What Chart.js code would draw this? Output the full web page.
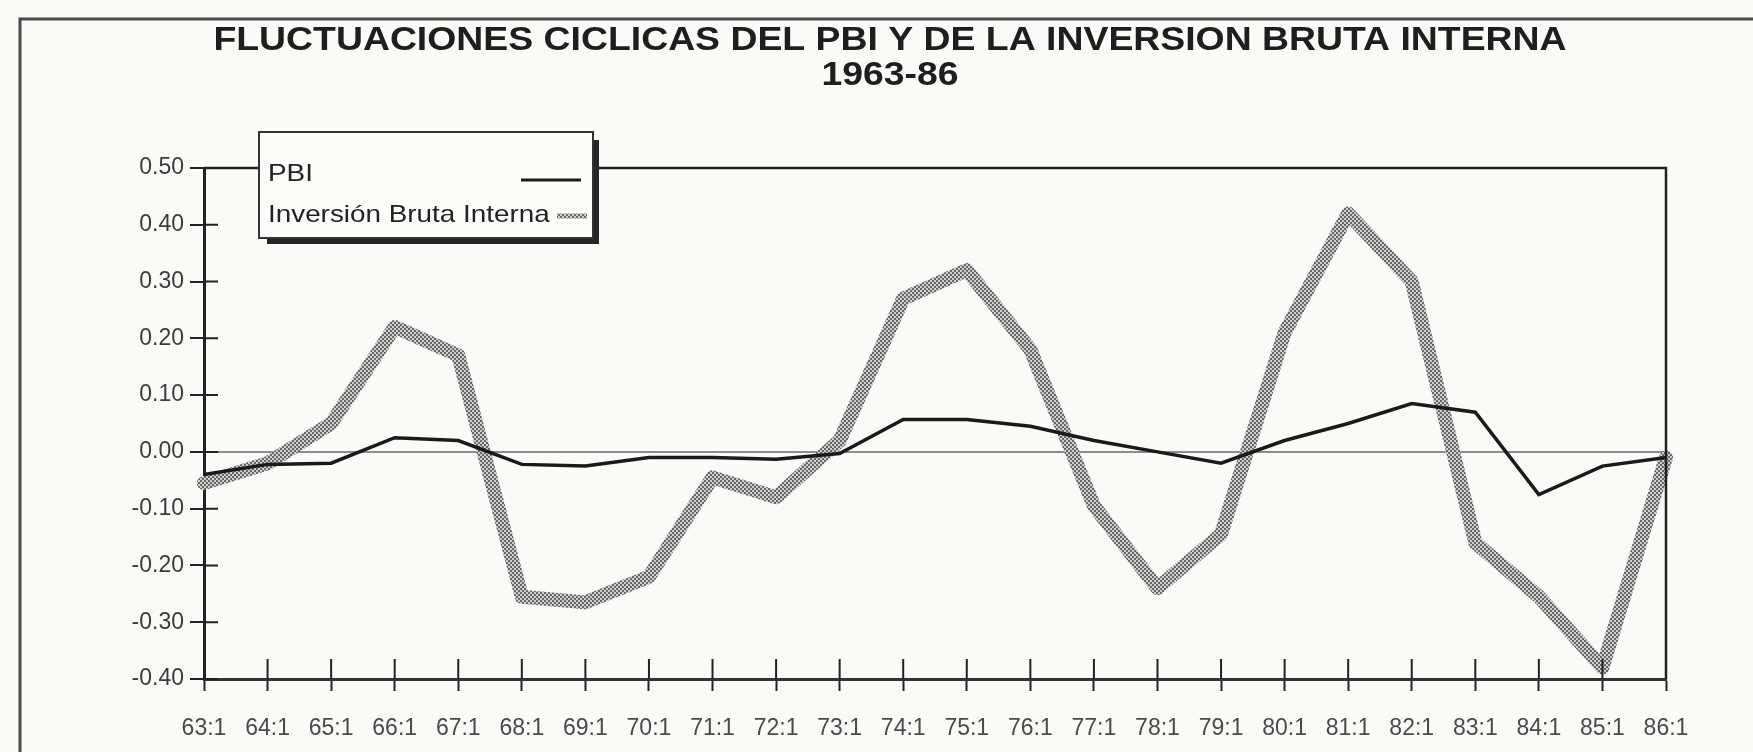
<!DOCTYPE html>
<html>
<head>
<meta charset="utf-8">
<script src="https://cdn.jsdelivr.net/npm/chart.js@4.4.1/dist/chart.umd.min.js"></script>
<style>
  html, body { margin: 0; padding: 0; background: #fbfaf6; }
  canvas { display: block; }
</style>
</head>
<body>
<canvas id="canvas" width="1753" height="752"></canvas>
<script>
// trimestres del eje X
var labels = ['63:1', '64:1', '65:1', '66:1', '67:1', '68:1', '69:1', '70:1', '71:1', '72:1', '73:1', '74:1',
              '75:1', '76:1', '77:1', '78:1', '79:1', '80:1', '81:1', '82:1', '83:1', '84:1', '85:1', '86:1'];

// PBI (linea negra)
var pbi = [-0.04, -0.022, -0.02, 0.025, 0.02, -0.022, -0.025, -0.01, -0.01, -0.013, -0.003, 0.057,
           0.057, 0.045, 0.02, 0.0, -0.02, 0.02, 0.05, 0.085, 0.07, -0.075, -0.025, -0.01];

// Inversion Bruta Interna (linea gris trama)
var inversion = [-0.055, -0.02, 0.05, 0.22, 0.17, -0.255, -0.265, -0.22, -0.045, -0.08, 0.02, 0.27,
                 0.32, 0.18, -0.095, -0.24, -0.145, 0.21, 0.42, 0.30, -0.16, -0.255, -0.38, -0.01];

// eje Y
var yMin = -0.4, yMax = 0.5, yStep = 0.1;

var titulo = ['FLUCTUACIONES CICLICAS DEL PBI Y DE LA INVERSION BRUTA INTERNA', '1963-86'];

var canvas = document.getElementById('canvas');
var ctx = canvas.getContext('2d');

// trama gris para la inversion
function trama() {
    var c = document.createElement('canvas');
    c.width = 4; c.height = 4;
    var g = c.getContext('2d');
    g.fillStyle = '#cecece';
    g.fillRect(0, 0, 4, 4);
    g.fillStyle = '#686868';
    g.fillRect(0, 0, 2, 2);
    g.fillRect(2, 2, 2, 2);
    return ctx.createPattern(c, 'repeat');
}
var patron = trama();

var fuente = 'Liberation Sans, Arial, Helvetica, sans-serif';
var estiramiento = 1.15; // el escaneo esta un poco ensanchado

// marco, ticks cruzados, borde del grafico y leyenda
var decorado = {
    id: 'decorado',
    beforeDraw: function (chart) {
        var c = chart.ctx;
        // titulo algo mas ancho, como en el original
        var tb = chart.titleBlock;
        if (tb && !tb._estirado) {
            var dibujar = tb.draw;
            tb.draw = function (area) {
                var cx = (this.left + this.right) / 2;
                this.ctx.save();
                this.ctx.translate(cx, 0);
                this.ctx.scale(estiramiento, 1);
                this.ctx.translate(-cx, 0);
                dibujar.call(this, area);
                this.ctx.restore();
            };
            tb._estirado = true;
        }
        c.save();
        c.fillStyle = '#fbfaf6';
        c.fillRect(0, 0, chart.width, chart.height);
        c.strokeStyle = '#4a4a4a';
        c.lineWidth = 3;
        c.beginPath();
        c.moveTo(20, chart.height);
        c.lineTo(20, 19);
        c.lineTo(chart.width, 19);
        c.stroke();
        c.restore();
    },
    afterDraw: function (chart) {
        var c = chart.ctx, a = chart.chartArea;
        var sx = chart.scales.x, sy = chart.scales.y;
        c.save();
        c.strokeStyle = '#222';
        c.lineWidth = 2;
        c.beginPath();
        sy.ticks.forEach(function (t, i) {
            var py = sy.getPixelForTick(i);
            c.moveTo(a.left, py);
            c.lineTo(a.left + 14, py);
        });
        sx.ticks.forEach(function (t, i) {
            var px = sx.getPixelForTick(i);
            c.moveTo(px, a.bottom);
            c.lineTo(px, a.bottom - 20);
        });
        c.stroke();

        // borde superior y derecho
        c.lineWidth = 2.5;
        c.beginPath();
        c.moveTo(a.left, a.top);
        c.lineTo(a.right, a.top);
        c.lineTo(a.right, a.bottom);
        c.stroke();

        // leyenda
        var lx = a.left + 55, ly = a.top - 36, lw = 334, lh = 106;
        c.fillStyle = '#262626';
        c.fillRect(lx + lw, ly + 8, 6, lh - 2);
        c.fillRect(lx + 8, ly + lh, lw - 2, 6);
        c.fillStyle = '#fdfcf9';
        c.fillRect(lx, ly, lw, lh);
        c.strokeStyle = '#333';
        c.lineWidth = 2;
        c.strokeRect(lx, ly, lw, lh);

        var ds = chart.data.datasets;
        c.save();
        c.translate(lx + 9, 0);
        c.scale(1.16, 1);
        c.font = '24px ' + fuente;
        c.fillStyle = '#222';
        c.textBaseline = 'middle';
        c.textAlign = 'left';
        c.fillText(ds[0].label, 0, ly + 42);
        c.fillText(ds[1].label, 0, ly + 83);
        c.restore();

        c.strokeStyle = ds[0].borderColor;
        c.lineWidth = 3;
        c.beginPath();
        c.moveTo(lx + 262, ly + 48);
        c.lineTo(lx + 322, ly + 48);
        c.stroke();

        c.strokeStyle = patron;
        c.lineWidth = 5;
        c.beginPath();
        c.moveTo(lx + 298, ly + 84);
        c.lineTo(lx + 328, ly + 84);
        c.stroke();
        c.restore();
    }
};

var grafico = new Chart(ctx, {
    type: 'line',
    data: {
        labels: labels,
        datasets: [
            {
                label: 'PBI',
                data: pbi,
                borderColor: '#1a1a1a',
                borderWidth: 3.5,
                pointRadius: 0,
                tension: 0,
                order: 0
            },
            {
                label: 'Inversión Bruta Interna',
                data: inversion,
                borderColor: patron,
                borderWidth: 14,
                borderJoinStyle: 'round',
                borderCapStyle: 'round',
                pointRadius: 0,
                tension: 0,
                order: 1
            }
        ]
    },
    options: {
        responsive: false,
        animation: false,
        layout: { padding: { left: 27, right: 0, top: 0, bottom: 0 } },
        plugins: {
            legend: { display: false },
            tooltip: { enabled: false },
            title: {
                display: true,
                text: titulo,
                color: '#1e1e1e',
                font: { family: fuente, size: 32.5, weight: 'bold', lineHeight: 1.077 },
                padding: { top: 24, bottom: 74 }
            }
        },
        scales: {
            x: {
                type: 'category',
                offset: false,
                grid: { drawOnChartArea: false, tickLength: 12, tickColor: '#222', tickWidth: 2 },
                border: { color: '#333', width: 3 },
                ticks: {
                    color: '#4a4a4a',
                    font: { family: fuente, size: 23 },
                    padding: 24,
                    maxRotation: 0,
                    autoSkip: false
                },
                afterFit: function (s) { s.height = 73; }
            },
            y: {
                min: yMin,
                max: yMax,
                grid: {
                    tickLength: 14,
                    tickColor: '#222',
                    tickWidth: 2,
                    lineWidth: 2,
                    color: function (c) {
                        return (c.tick && Math.abs(c.tick.value) < 1e-9) ? '#8c8c8c' : 'rgba(0,0,0,0)';
                    }
                },
                border: { color: '#222', width: 3 },
                ticks: {
                    stepSize: yStep,
                    color: '#3c3c3c',
                    font: { family: fuente, size: 23 },
                    padding: 6,
                    callback: function (v) { return Number(v).toFixed(2); }
                },
                afterFit: function (s) { s.width = 177; }
            },
            // eje vacio a la derecha: solo reserva el margen
            margen: {
                type: 'linear',
                position: 'right',
                display: true,
                grid: { display: false },
                border: { display: false },
                ticks: { display: false },
                afterFit: function (s) { s.width = 87; }
            }
        }
    },
    plugins: [decorado]
});
</script>
</body>
</html>
